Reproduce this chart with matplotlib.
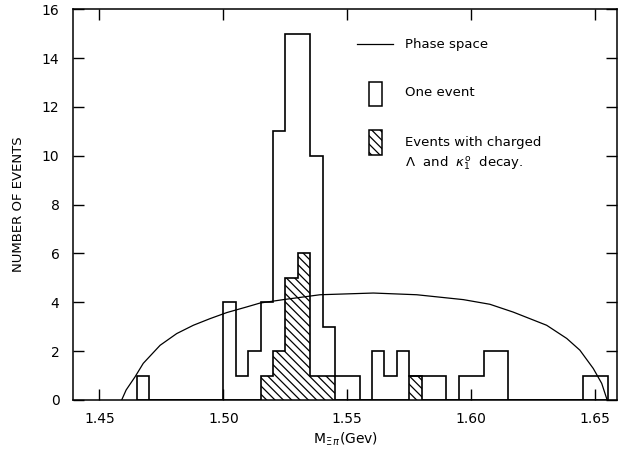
import matplotlib
matplotlib.use('Agg')
import matplotlib.pyplot as plt
from matplotlib.patches import Rectangle
import numpy as np

# bins of 5 MeV starting at 1.465 GeV
bin_start = 1.465
bin_width = 0.005
all_events = [1, 0, 0, 0, 0, 0, 0, 4, 1, 2, 4, 11, 15, 15, 10, 3, 1, 1, 0,
              2, 1, 2, 1, 1, 1, 0, 1, 1, 2, 2, 0, 0, 0, 0, 0, 0, 1, 1]
charged = [0, 0, 0, 0, 0, 0, 0, 0, 0, 0, 1, 2, 5, 6, 1, 1, 0, 0, 0,
           0, 0, 0, 1, 0, 0, 0, 0, 0, 0, 0, 0, 0, 0, 0, 0, 0, 0, 0]

# phase space curve
ps_mass = [1.459, 1.4608, 1.4644, 1.4677, 1.4745, 1.4812, 1.4879, 1.4946, 1.5014,
           1.5094, 1.5148, 1.5242, 1.539, 1.5605, 1.578, 1.5968, 1.6075, 1.6169,
           1.6304, 1.6385, 1.6438, 1.6492, 1.6526, 1.6548]
ps_value = [0, 0.41, 0.95, 1.50, 2.24, 2.72, 3.06, 3.33, 3.58,
            3.81, 3.97, 4.11, 4.31, 4.38, 4.31, 4.11, 3.92, 3.60,
            3.06, 2.52, 2.04, 1.29, 0.68, 0.0]

xticks = [1.45, 1.50, 1.55, 1.60, 1.65]
yticks = [0, 2, 4, 6, 8, 10, 12, 14, 16]

plt.rcParams['font.family'] = 'DejaVu Sans'
plt.rcParams['hatch.linewidth'] = 0.9

fig = plt.figure(figsize=(6.24, 4.51), dpi=100)
ax = fig.add_axes([0.1175, 0.1131, 0.8718, 0.8663])

edges = bin_start + bin_width * np.arange(len(all_events) + 1)
ax.stairs(all_events, edges, color='black', linewidth=1.2)
ax.stairs(charged, edges, fill=True, facecolor='none', edgecolor='black',
          hatch='\\\\\\\\', linewidth=1.2)
ax.plot(ps_mass, ps_value, color='black', linewidth=0.9)

ax.set_xlim(1.4395, 1.6589)
ax.set_ylim(0, 16)
ax.set_xticks(xticks)
ax.set_xticklabels(['%.2f' % t for t in xticks])
ax.set_yticks(yticks)
ax.tick_params(direction='in', length=8, width=1, top=True, right=True,
               labelsize=10)
ax.tick_params(axis='x', pad=9)
ax.tick_params(axis='y', pad=10)
for s in ax.spines.values():
    s.set_linewidth(1.1)

ax.set_ylabel('NUMBER OF EVENTS', fontsize=9.5, labelpad=12)
ax.set_xlabel(r'M$_{\Xi\,\pi}$(Gev)', fontsize=10, labelpad=3)

# legend drawn by hand
tr = ax.transAxes
ax.plot([0.5215, 0.5877], [0.911, 0.911], color='black', linewidth=0.9,
        transform=tr)
ax.text(0.6097, 0.911, 'Phase space', transform=tr, va='center', fontsize=9.5)
ax.add_patch(Rectangle((0.544, 0.7525), 0.024, 0.0614, transform=tr,
                       facecolor='white', edgecolor='black', linewidth=1.1))
ax.text(0.6097, 0.7858, 'One event', transform=tr, va='center', fontsize=9.5)
ax.add_patch(Rectangle((0.544, 0.627), 0.024, 0.064, transform=tr,
                       facecolor='white', edgecolor='black', linewidth=1.1,
                       hatch='\\\\\\\\'))
ax.text(0.6097, 0.658, 'Events with charged', transform=tr, va='center',
        fontsize=9.5)
ax.text(0.6097, 0.6066, r'$\Lambda$  and  $\kappa_1^{\rm o}$  decay.',
        transform=tr, va='center', fontsize=9.5)

fig.savefig('out.png', dpi=100)
